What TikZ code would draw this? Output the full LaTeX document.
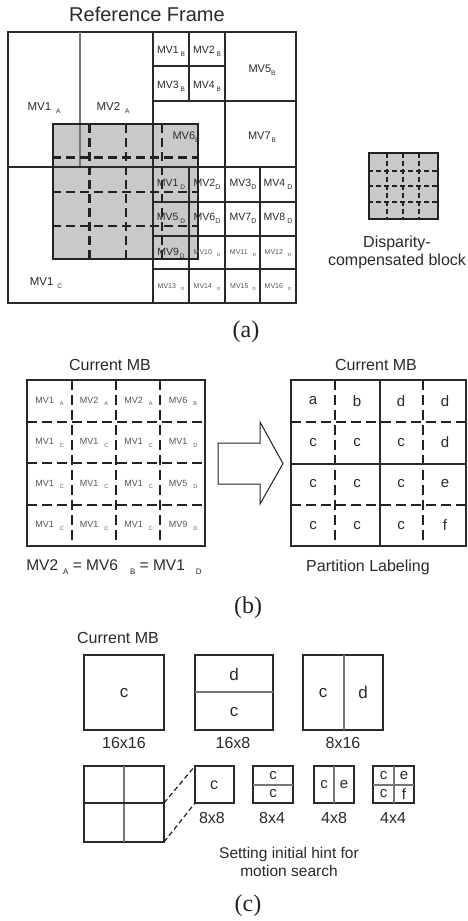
\documentclass[tikz,border=0pt]{standalone}
\usepackage{fontspec}
\setmainfont{Liberation Sans}
\newfontfamily\seriffont{Liberation Serif}
\newcommand{\fs}[1]{\fontsize{#1}{#1}\selectfont}
\newcommand{\sbx}[2]{\raisebox{-0.5ex}{\fs{#1}#2}}
\definecolor{ink}{HTML}{222222}
\definecolor{linec}{HTML}{2A2A2A}
\definecolor{minor}{HTML}{777777}
\definecolor{blockgray}{HTML}{C9C9C9}
\definecolor{txt}{HTML}{2A2A2A}
\definecolor{txtl}{HTML}{555555}
\tikzset{
  frame/.style={draw=linec, line width=1.1pt},
  minorline/.style={draw=minor, line width=1.1pt},
  bigdash/.style={draw=ink, line width=2.5pt, dash pattern=on 9pt off 5pt},
  smalldash/.style={draw=ink, line width=2pt, dash pattern=on 5pt off 3pt},
  bdash/.style={draw=ink, line width=2.4pt, dash pattern=on 10pt off 5pt},
  cdash/.style={draw=ink, line width=1.2pt, dash pattern=on 5pt off 3pt},
  lab/.style={inner sep=0pt, text=txt},
  caption/.style={inner sep=0pt, text=ink, font=\seriffont\fs{24}},
}
\begin{document}
\begin{tikzpicture}[x=1pt,y=-1pt]
\useasboundingbox (0,0) rectangle (468,921);
\fill[white] (0,0) rectangle (468,921);
% ================= (a) =================
\node[lab, font=\fs{20}] (titleA) at (147,14) {Reference Frame};
\fill[blockgray] (53,124) rectangle (198,259);
\draw[frame] (8,32) rectangle (296,303);
\draw[minorline] (80,32) -- (80,167);
\draw[frame] (8,167) -- (296,167);
\draw[frame] (153,32) -- (153,303);
\draw[frame] (225,32) -- (225,303);
\draw[frame] (189,32) -- (189,101);
\draw[frame] (153,66) -- (225,66);
\draw[frame] (153,101) -- (296,101);
\draw[frame] (189,167) -- (189,303);
\draw[frame] (260,167) -- (260,303);
\foreach \yy in {202,236,269} \draw[frame] (153,\yy) -- (296,\yy);
\draw[draw=ink, line width=1.4pt] (53,124) rectangle (198,259);
\foreach \xx in {89.5,126,162} \draw[bigdash] (\xx,124) -- (\xx,259);
\foreach \yy in {157.5,192,226} \draw[bigdash] (52,\yy) -- (199,\yy);
% labels
\node[lab, font=\fs{11.5}] (mv1a) at (44,108) {MV1\hspace{5pt}\sbx{6.5}{A}};
\node[lab, font=\fs{11.5}] (mv2a) at (113,108) {MV2\hspace{5pt}\sbx{6.5}{A}};
\node[lab, font=\fs{11.5}] (mv1c) at (46,283) {MV1\hspace{4pt}\sbx{6.5}{C}};
\node[lab, font=\fs{10.5}] (mv1b) at (171,51) {MV1\hspace{2pt}\sbx{6.5}{B}};
\node[lab, font=\fs{10.5}] (mv2b) at (207,51) {MV2\hspace{2pt}\sbx{6.5}{B}};
\node[lab, font=\fs{10.5}] (mv3b) at (171,86) {MV3\hspace{2pt}\sbx{6.5}{B}};
\node[lab, font=\fs{10.5}] (mv4b) at (207,86) {MV4\hspace{2pt}\sbx{6.5}{B}};
\node[lab, font=\fs{11}] (mv5b) at (262,70) {MV5\sbx{6.5}{B}};
\node[lab, font=\fs{11}] (mv6b) at (186,137) {MV6\sbx{6.5}{B}};
\node[lab, font=\fs{11}] (mv7b) at (262,137) {MV7\hspace{1pt}\sbx{6.5}{B}};
\node[lab, font=\fs{10.5}] (d1) at (171,184) {MV1\hspace{2pt}\sbx{6.5}{D}};
\node[lab, font=\fs{10.5}] (d2) at (207,184) {MV2\sbx{7}{D}};
\node[lab, font=\fs{10.5}] (d3) at (243,184) {MV3\sbx{7}{D}};
\node[lab, font=\fs{10.5}] (d4) at (278,184) {MV4\hspace{2pt}\sbx{7}{D}};
\node[lab, font=\fs{10.5}] (d5) at (171,218) {MV5\hspace{2pt}\sbx{6.5}{D}};
\node[lab, font=\fs{10.5}] (d6) at (207,218) {MV6\sbx{7}{D}};
\node[lab, font=\fs{10.5}] (d7) at (243,218) {MV7\sbx{7}{D}};
\node[lab, font=\fs{10.5}] (d8) at (278,218) {MV8\hspace{2pt}\sbx{7}{D}};
\node[lab, font=\fs{10.5}] (d9) at (171,253) {MV9\hspace{1pt}\sbx{6.5}{D}};
\node[lab, font=\fs{7}, text=txtl] (d10) at (207,253) {MV10\hspace{5pt}\sbx{4.5}{D}};
\node[lab, font=\fs{7}, text=txtl] (d11) at (243,253) {MV11\hspace{5pt}\sbx{4.5}{D}};
\node[lab, font=\fs{7}, text=txtl] (d12) at (278,253) {MV12\hspace{5pt}\sbx{4.5}{D}};
\node[lab, font=\fs{7}, text=txtl] (d13) at (171,287) {MV13\hspace{5pt}\sbx{4.5}{D}};
\node[lab, font=\fs{7}, text=txtl] (d14) at (207,287) {MV14\hspace{5pt}\sbx{4.5}{D}};
\node[lab, font=\fs{7}, text=txtl] (d15) at (243,287) {MV15\hspace{4pt}\sbx{4.5}{D}};
\node[lab, font=\fs{7}, text=txtl] (d16) at (278,287) {MV16\hspace{5pt}\sbx{4.5}{D}};
% disparity block
\fill[blockgray] (369,153) rectangle (438,219);
\draw[draw=ink, line width=1.2pt] (369,153) rectangle (438,219);
\foreach \xx in {387,403,419} \draw[smalldash] (\xx,153) -- (\xx,219);
\foreach \yy in {171,186,202} \draw[smalldash] (368,\yy) -- (437,\yy);
\node[lab, font=\fs{16}, align=center] (disp) at (397,252) {Disparity-\\[2pt]compensated block};
\node[caption] (capA) at (246,332) {(a)};
% ================= (b) =================
\node[lab, font=\fs{16}] (curL) at (110,365) {Current MB};
\draw[frame] (27,380) rectangle (205,546);
\foreach \xx in {72,116,160} \draw[bdash] (\xx,380) -- (\xx,546);
\foreach \yy in {422,463,505} \draw[bdash] (27,\yy) -- (205,\yy);
\foreach \lbl/\sb [count=\i from 0] in {MV1/A,MV2/A,MV2/A,MV6/B,MV1/C,MV1/C,MV1/C,MV1/D,MV1/C,MV1/C,MV1/C,MV5/D,MV1/C,MV1/C,MV1/C,MV9/D}{
  \pgfmathtruncatemacro{\cc}{mod(\i,4)}
  \pgfmathtruncatemacro{\rr}{int(\i/4)}
  \node[lab, font=\fs{9}, text=txtl] (bl\i) at ({49.5+44.5*\cc},{401.5+41.5*\rr}) {\lbl\hspace{6pt}\sbx{5.5}{\sb}};
}
\node[lab, font=\fs{15.5}] (eqn) at (114,567) {MV2\hspace{5pt}\sbx{8}{A} = MV6\hspace{12pt}\sbx{8}{B} = MV1\hspace{11pt}\sbx{8}{D}};
% arrow
\draw[draw=ink, line width=1pt, fill=white] (218,443) -- (260,443) -- (260,422) -- (283,463.5) -- (260,504) -- (260,484) -- (218,484) -- cycle;
\node[lab, font=\fs{16}] (curR) at (376,365) {Current MB};
\draw[frame] (291,380) rectangle (466,546);
\draw[frame] (380,380) -- (380,546);
\draw[frame] (291,464) -- (466,464);
\foreach \xx in {335,423} \draw[bdash] (\xx,380) -- (\xx,546);
\foreach \yy in {422,505} \draw[bdash] (291,\yy) -- (466,\yy);
\foreach \lbl [count=\i from 0] in {a,b,d,d,c,c,c,d,c,c,c,e,c,c,c,f}{
  \pgfmathtruncatemacro{\cc}{mod(\i,4)}
  \pgfmathtruncatemacro{\rr}{int(\i/4)}
  \node[lab, font=\fs{15}] (br\i) at ({313+44*\cc},{401+41.5*\rr}) {\lbl};
}
\node[lab, font=\fs{16}] (partl) at (368,567) {Partition Labeling};
\node[caption] (capB) at (248,608) {(b)};
% ================= (c) =================
\node[lab, font=\fs{16}] (curC) at (118,638) {Current MB};
\draw[frame] (84,655) rectangle (164,730);
\node[lab, font=\fs{17}] (c1) at (124,693) {c};
\node[lab, font=\fs{16}] (s1) at (124,743) {16x16};
\draw[frame] (195,655) rectangle (273,730);
\draw[minorline] (195,692) -- (273,692);
\node[lab, font=\fs{17}] (c2a) at (234,674) {d};
\node[lab, font=\fs{17}] (c2b) at (234,712) {c};
\node[lab, font=\fs{16}] (s2) at (233,743) {16x8};
\draw[frame] (303,655) rectangle (383,730);
\draw[minorline] (344,655) -- (344,730);
\node[lab, font=\fs{17}] (c3a) at (323,693) {c};
\node[lab, font=\fs{17}] (c3b) at (363,692) {d};
\node[lab, font=\fs{16}] (s3) at (343,743) {8x16};
% bottom row
\draw[frame] (84,766) rectangle (164,842);
\draw[minorline] (124,766) -- (124,842);
\draw[frame] (84,803) -- (164,803);
\draw[frame] (195,766) rectangle (234,803);
\node[lab, font=\fs{16}] (c4) at (214,785) {c};
\coordinate (qtr) at (164,803);
\coordinate (qbr) at (164,842);
\coordinate (stl) at (195,766);
\coordinate (sbl) at (195,803);
\draw[cdash] (qtr) -- (stl);
\draw[cdash] (qbr) -- (sbl);
\node[lab, font=\fs{16}] (s4) at (212,818) {8x8};
\draw[frame] (253,766) rectangle (293,803);
\draw[minorline] (253,785) -- (293,785);
\node[lab, font=\fs{15}] (c5a) at (273,776) {c};
\node[lab, font=\fs{15}] (c5b) at (273,794) {c};
\node[lab, font=\fs{16}] (s5) at (272,818) {8x4};
\draw[frame] (314,766) rectangle (354,803);
\draw[minorline] (334,766) -- (334,803);
\node[lab, font=\fs{15}] (c6a) at (324,785) {c};
\node[lab, font=\fs{15}] (c6b) at (344,785) {e};
\node[lab, font=\fs{16}] (s6) at (334,818) {4x8};
\draw[frame] (373,766) rectangle (414,803);
\draw[minorline] (394,766) -- (394,803);
\draw[minorline] (373,785) -- (414,785);
\node[lab, font=\fs{15}] (c7a) at (383.5,776) {c};
\node[lab, font=\fs{15}] (c7b) at (404,776) {e};
\node[lab, font=\fs{15}] (c7c) at (383.5,794) {c};
\node[lab, font=\fs{15}] (c7d) at (404,794) {f};
\node[lab, font=\fs{16}] (s7) at (393,818) {4x4};
\node[lab, font=\fs{15.5}, align=center] (hint) at (289,862) {Setting initial hint for\\[3pt]motion search};
\node[caption] (capC) at (248,906) {(c)};
\end{tikzpicture}
\end{document}
